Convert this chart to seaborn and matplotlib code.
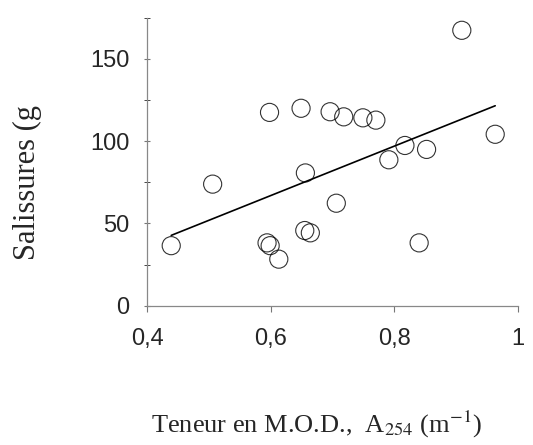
import numpy as np
import pandas as pd
import matplotlib
matplotlib.use("Agg")
import matplotlib.pyplot as plt
import seaborn as sns

# values
a254 = [0.439, 0.506, 0.598, 0.594, 0.599, 0.613, 0.649, 0.656, 0.655, 0.664,
        0.696, 0.706, 0.718, 0.749, 0.770, 0.791, 0.817, 0.840, 0.852, 0.909, 0.963]
salissures = [36.5, 73.9, 117.5, 38.2, 36.5, 28.3, 120.0, 80.7, 45.7, 44.3,
              117.9, 62.3, 114.8, 114.2, 112.8, 88.7, 97.4, 38.2, 95.0, 167.4, 104.2]
x_ticks = [0.4, 0.6, 0.8, 1.0]
x_tick_labels = ["0,4", "0,6", "0,8", "1"]
y_ticks = [0, 50, 100, 150]
y_minor = [25, 75, 125, 175]

df = pd.DataFrame({"a254": a254, "sal": salissures})

sns.set_style("ticks")
plt.rcParams["font.family"] = ["Liberation Sans", "DejaVu Sans"]

fig = plt.figure(figsize=(5.33, 4.45), dpi=100)
ax = fig.add_axes([0.276, 0.313, 0.696, 0.647])

sns.regplot(data=df, x="a254", y="sal", ax=ax, ci=None,
            scatter_kws=dict(s=170, facecolors="none", edgecolors="black",
                             linewidths=0.8, clip_on=False),
            line_kws=dict(color="black", lw=1.2))

ax.set_xlim(0.4, 1.0)
ax.set_ylim(0, 175)
ax.set_xticks(x_ticks)
ax.set_xticklabels(x_tick_labels)
ax.set_yticks(y_ticks)
ax.set_yticks(y_minor, minor=True)
ax.tick_params(axis="both", labelsize=17, color="#777777", width=0.8)
ax.tick_params(axis="y", which="both", direction="inout", length=5, pad=10)
ax.tick_params(axis="x", direction="out", length=4, pad=12)
ax.set_xlabel("")
ax.set_ylabel("")
for s in ["top", "right"]:
    ax.spines[s].set_visible(False)
for s in ["left", "bottom"]:
    ax.spines[s].set_color("#888888")
    ax.spines[s].set_linewidth(0.9)

# axis titles placed on the figure, like the scanned original
fig.text(0.594, 0.045, r"Teneur en M.O.D.,  A$_{254}$ (m$^{-1}$)",
         family="Liberation Serif", fontsize=19, ha="center", va="center",
         math_fontfamily="stix")
fig.text(0.052, 0.59, "Salissures (g", family="Liberation Serif", fontsize=22,
         rotation=90, ha="center", va="center")

fig.savefig("out.png", dpi=100)
